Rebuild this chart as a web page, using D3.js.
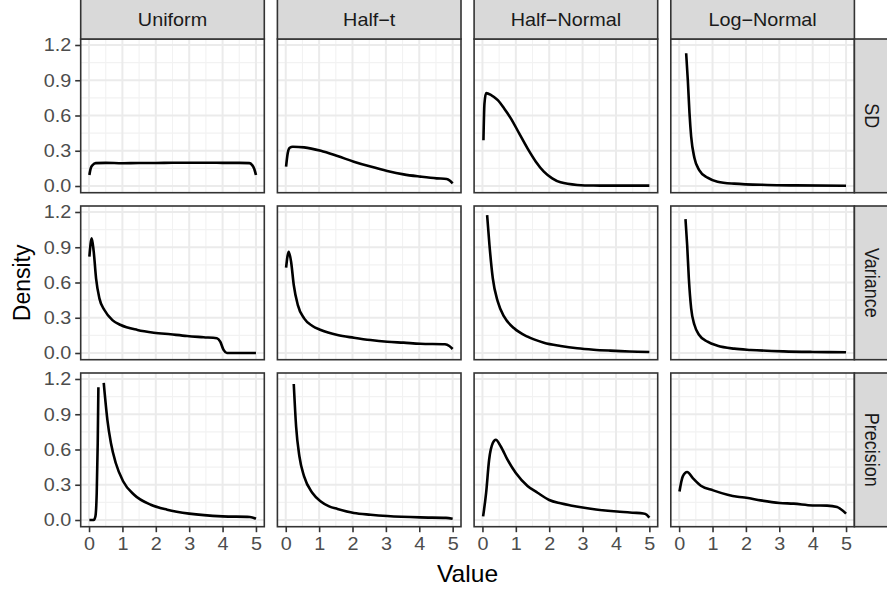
<!DOCTYPE html>
<html><head><meta charset="utf-8">
<script src="https://cdn.jsdelivr.net/npm/d3@7"></script>
<style>body{margin:0;background:#fff}svg{display:block}text{font-family:"Liberation Sans",Arial,Helvetica,sans-serif}</style>
</head><body><svg id="chart" width="887" height="592"></svg>
<script>
// ---- data ----
const priors = ["Uniform", "Half\u2212t", "Half\u2212Normal", "Log\u2212Normal"];
const params = ["SD", "Variance", "Precision"];
const xTicks = [0, 1, 2, 3, 4, 5];
const yTicks = [0, 0.3, 0.6, 0.9, 1.2];

// SD row
const sd_uniform = [[0.01,0.094],[0.05,0.15],[0.11,0.179],[0.2,0.195],[0.5,0.197],[1,0.194],[1.5,0.196],[2,0.196],[2.5,0.198],[3,0.198],[3.5,0.198],[4,0.197],[4.5,0.197],[4.8,0.195],[4.88,0.18],[4.95,0.145],[5,0.094]];
const sd_halft = [[0.01,0.164],[0.06,0.28],[0.12,0.325],[0.21,0.334],[0.55,0.329],[1.05,0.30],[1.55,0.255],[2.04,0.207],[2.54,0.165],[3.04,0.128],[3.53,0.099],[4.03,0.08],[4.52,0.065],[4.82,0.06],[4.92,0.045],[5,0.023]];
const sd_halfnormal = [[0.03,0.39],[0.06,0.7],[0.11,0.79],[0.26,0.774],[0.46,0.73],[0.65,0.66],[0.85,0.576],[1.10,0.448],[1.35,0.32],[1.6,0.207],[1.84,0.122],[2.09,0.065],[2.34,0.031],[2.84,0.009],[3.33,0.004],[4,0.003],[5,0.003]];
const sd_lognormal = [[0.21,1.13],[0.26,0.90],[0.31,0.62],[0.36,0.42],[0.46,0.236],[0.60,0.136],[0.85,0.071],[1.15,0.037],[1.65,0.02],[2.64,0.009],[3.5,0.005],[5,0.002]];
// Variance row
const var_uniform = [[0.01,0.82],[0.08,0.976],[0.14,0.862],[0.21,0.636],[0.31,0.465],[0.46,0.366],[0.70,0.28],[0.95,0.238],[1.45,0.196],[1.94,0.173],[2.44,0.159],[2.94,0.145],[3.43,0.134],[3.83,0.125],[3.93,0.096],[4.03,0.026],[4.13,0.0],[4.5,0.0],[5,0.0]];
const var_halft = [[0.01,0.726],[0.09,0.862],[0.16,0.777],[0.24,0.579],[0.36,0.41],[0.55,0.295],[0.80,0.23],[1.05,0.196],[1.55,0.153],[2.04,0.13],[2.54,0.11],[3.04,0.096],[3.53,0.088],[4.03,0.079],[4.77,0.074],[4.9,0.06],[5,0.034]];
const var_halfnormal = [[0.14,1.174],[0.21,0.919],[0.31,0.636],[0.46,0.437],[0.65,0.309],[0.95,0.21],[1.35,0.139],[1.84,0.088],[2.34,0.06],[2.84,0.04],[3.33,0.028],[3.83,0.02],[4.4,0.013],[5,0.009]];
const var_lognormal = [[0.19,1.14],[0.24,0.919],[0.29,0.636],[0.36,0.38],[0.46,0.238],[0.60,0.153],[0.85,0.096],[1.15,0.062],[1.65,0.037],[2.14,0.026],[3.13,0.014],[4,0.009],[5,0.006]];
// Precision row (null = above plotted range)
const prec_uniform = [[0.01,0],[0.14,0],[0.19,0.03],[0.23,0.23],[0.26,0.655],[0.28,1.129],[0.3,null],[0.42,null],[0.44,1.166],[0.55,0.85],[0.655,0.655],[0.80,0.485],[1.02,0.33],[1.35,0.215],[1.85,0.13],[2.34,0.088],[3.0,0.054],[4.0,0.031],[4.82,0.026],[5.0,0.011]];
const prec_halft = [[0.24,1.157],[0.31,0.797],[0.41,0.54],[0.55,0.371],[0.80,0.23],[1.05,0.158],[1.30,0.116],[1.55,0.094],[2.04,0.06],[2.54,0.045],[3.04,0.034],[4.03,0.022],[4.8,0.018],[5.0,0.011]];
const prec_halfnormal = [[0.02,0.031],[0.11,0.23],[0.20,0.513],[0.31,0.655],[0.40,0.683],[0.55,0.626],[0.75,0.513],[1.0,0.40],[1.35,0.29],[1.65,0.232],[2.0,0.17],[2.34,0.142],[2.64,0.124],[3.0,0.106],[3.4,0.09],[4.03,0.072],[4.5,0.062],[4.82,0.056],[4.92,0.045],[5.0,0.02]];
const prec_lognormal = [[0.01,0.243],[0.11,0.371],[0.24,0.408],[0.41,0.357],[0.65,0.292],[1.02,0.252],[1.45,0.215],[1.75,0.198],[2.01,0.19],[2.44,0.167],[3.01,0.145],[3.43,0.139],[4.0,0.124],[4.43,0.122],[4.73,0.11],[5.0,0.054]];

const series = [
  [sd_uniform, sd_halft, sd_halfnormal, sd_lognormal],
  [var_uniform, var_halft, var_halfnormal, var_lognormal],
  [prec_uniform, prec_halft, prec_halfnormal, prec_lognormal]
];

// ---- layout ----
const P = {left: 80.7, top: 39, w: 183.6, h: 153.7, stepX: 196.7, stepY: 167};
const SX = 1.1; // horizontal text stretch of the reference
const svg = d3.select("#chart");
const x = d3.scaleLinear().domain([-0.25, 5.25]).range([0, P.w]);
const y = d3.scaleLinear().domain([-0.057, 1.251]).range([P.h, 0]);
const xMinor = [0.5, 1.5, 2.5, 3.5, 4.5];
const yMinor = [0.15, 0.45, 0.75, 1.05];
const line = d3.line().defined(d => d[1] !== null).x(d => x(d[0])).y(d => y(d[1])).curve(d3.curveMonotoneX);

params.forEach((pr, r) => {
  priors.forEach((pn, c) => {
    const g = svg.append("g").attr("transform", `translate(${P.left + c * P.stepX},${P.top + r * P.stepY})`);
    g.append("rect").attr("width", P.w).attr("height", P.h).attr("fill", "#fff");
    g.selectAll(".mx").data(xMinor).join("line").attr("x1", d => x(d)).attr("x2", d => x(d)).attr("y1", 0).attr("y2", P.h).attr("stroke", "#F2F2F2").attr("stroke-width", 1.1);
    g.selectAll(".my").data(yMinor).join("line").attr("y1", d => y(d)).attr("y2", d => y(d)).attr("x1", 0).attr("x2", P.w).attr("stroke", "#F2F2F2").attr("stroke-width", 1.1);
    g.selectAll(".gx").data(xTicks).join("line").attr("x1", d => x(d)).attr("x2", d => x(d)).attr("y1", 0).attr("y2", P.h).attr("stroke", "#EBEBEB").attr("stroke-width", 2);
    g.selectAll(".gy").data(yTicks).join("line").attr("y1", d => y(d)).attr("y2", d => y(d)).attr("x1", 0).attr("x2", P.w).attr("stroke", "#EBEBEB").attr("stroke-width", 2);
    g.append("path").datum(series[r][c]).attr("d", line).attr("fill", "none").attr("stroke", "#000").attr("stroke-width", 2.6).attr("stroke-linejoin", "round").attr("stroke-linecap", "butt");
    g.append("rect").attr("width", P.w).attr("height", P.h).attr("fill", "none").attr("stroke", "#333333").attr("stroke-width", 1.6);
    if (c === 0) {
      const ax = g.append("g").call(d3.axisLeft(y).tickValues(yTicks).tickFormat(d3.format(".1f")).tickSize(5.5).tickPadding(3));
      ax.select(".domain").remove();
      ax.selectAll(".tick line").attr("stroke", "#333333").attr("stroke-width", 1.6);
      ax.selectAll(".tick text").attr("fill", "#4D4D4D").style("font-size", "18px").attr("font-family", null)
        .attr("x", -9.5 / SX).attr("transform", `scale(${SX},1)`);
    }
    if (r === params.length - 1) {
      const ax = g.append("g").attr("transform", `translate(0,${P.h})`).call(d3.axisBottom(x).tickValues(xTicks).tickFormat(d3.format("d")).tickSize(5.5).tickPadding(3));
      ax.select(".domain").remove();
      ax.selectAll(".tick line").attr("stroke", "#333333").attr("stroke-width", 1.6);
      ax.selectAll(".tick text").attr("fill", "#4D4D4D").style("font-size", "18px").attr("font-family", null)
        .attr("y", 10.5).attr("transform", `scale(${SX},1)`);
    }
  });
});

// top strips
priors.forEach((pn, c) => {
  const x0 = P.left + c * P.stepX;
  svg.append("rect").attr("x", x0).attr("y", -3).attr("width", P.w).attr("height", P.top + 3).attr("fill", "#D9D9D9").attr("stroke", "#333333").attr("stroke-width", 1.6);
  svg.append("text").attr("transform", `translate(${x0 + P.w / 2},19.7) scale(${SX},1)`).attr("dy", "0.35em").attr("text-anchor", "middle").attr("fill", "#1A1A1A").style("font-size", "18px").text(pn);
});
// right strips
params.forEach((pr, r) => {
  const x0 = P.left + 3 * P.stepX + P.w;
  const y0 = P.top + r * P.stepY;
  svg.append("rect").attr("x", x0).attr("y", y0).attr("width", 40).attr("height", P.h).attr("fill", "#D9D9D9").attr("stroke", "#333333").attr("stroke-width", 1.6);
  svg.append("text").attr("transform", `translate(${x0 + 17.9},${y0 + P.h / 2}) scale(${SX},1) rotate(90)`).attr("dy", "0.35em").attr("text-anchor", "middle").attr("fill", "#1A1A1A").style("font-size", "18px").text(pr);
});

// axis titles
const totalW = 3 * P.stepX + P.w, totalH = 2 * P.stepY + P.h;
svg.append("text").attr("transform", `translate(${P.left + totalW / 2},581.7) scale(1.07,1)`).attr("text-anchor", "middle").attr("fill", "#000").style("font-size", "23px").text("Value");
svg.append("text").attr("transform", `translate(29.5,${P.top + totalH / 2}) scale(1.07,1) rotate(-90)`).attr("text-anchor", "middle").attr("fill", "#000").style("font-size", "23px").text("Density");
</script></body></html>
